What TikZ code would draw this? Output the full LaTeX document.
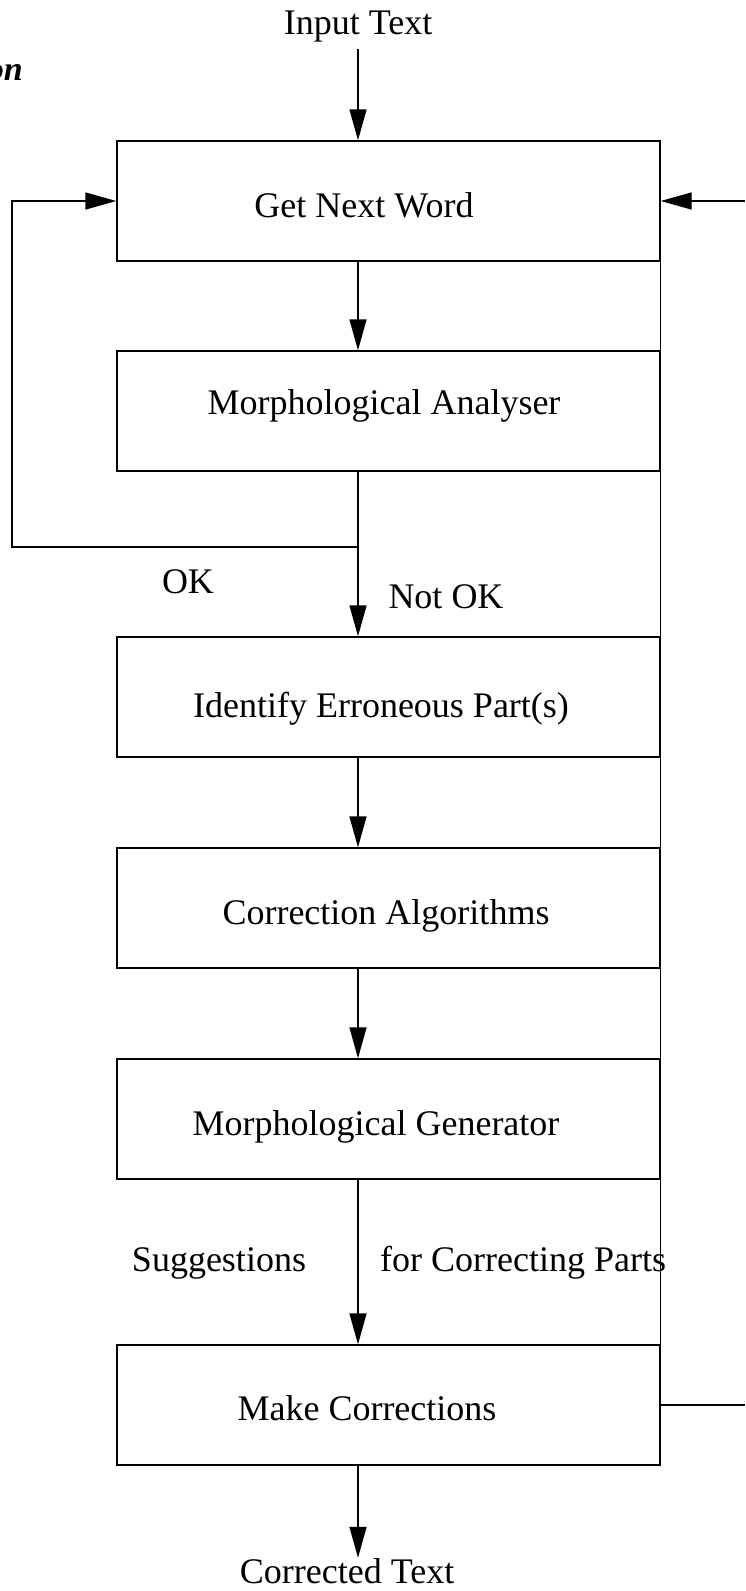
\documentclass[tikz,border=0pt]{standalone}
\usepackage{fontspec}
\setmainfont{Liberation Serif}
\usetikzlibrary{arrows.meta}
\begin{document}
\begin{tikzpicture}[x=1pt,y=-1pt,
  every node/.style={inner sep=0pt,font=\fontsize{36}{40}\selectfont},
  box/.style={draw,line width=1.4pt,rectangle,minimum width=543pt,minimum height=120pt},
  lbl/.style={anchor=base},
  conn/.style={line width=1.4pt},
  arr/.style={conn,-{Triangle[length=31pt,width=17pt]}}]
\useasboundingbox (0,0) rectangle (745,1591);
\clip (0,0) rectangle (745,1591);
% clipped heading fragment
\node[anchor=base east,font=\fontsize{34}{38}\selectfont\bfseries\itshape] (hd) at (23,80) {on};
% boxes
\node[box] (b1) at (388.5,201) {};
\node[box] (b2) at (388.5,411) {};
\node[box] (b3) at (388.5,697) {};
\node[box] (b4) at (388.5,908) {};
\node[box] (b5) at (388.5,1119) {};
\node[box] (b6) at (388.5,1405) {};
% box texts
\node[lbl] (t1) at (364,217) {Get Next Word};
\node[lbl] (t2) at (384,414) {Morphological Analyser};
\node[lbl] (t3) at (381,717) {Identify Erroneous Part(s)};
\node[lbl] (t4) at (386,924) {Correction Algorithms};
\node[lbl] (t5) at (376,1135) {Morphological Generator};
\node[lbl] (t6) at (367,1420) {Make Corrections};
% input / output
\node[lbl] (in) at (358,34) {Input Text};
\node[lbl] (out) at (347,1583) {Corrected Text};
% labels
\node[lbl] (okl) at (188,593) {OK};
\node[lbl] (nok) at (446,608) {Not OK};
\node[lbl] (sug) at (219,1271) {Suggestions};
\node[anchor=base west] (fcp) at (380,1271) {for Correcting Parts};
% coordinates
\coordinate (ax) at (358,0);
\coordinate (split) at (358,547);
\coordinate (lb) at (12,547);
\coordinate (lt) at (12,201);
\coordinate (rin) at (745,201);
\coordinate (rout) at (745,1405);
% connectors
\draw[arr,shorten <=7pt] (in.south) -- (b1.north -| ax);
\draw[arr] (b1.south -| ax) -- (b2.north -| ax);
\draw[conn] (b2.south -| ax) -- (split);
\draw[arr] (split) -- (b3.north -| ax);
\draw[arr] (split) -- (lb) -- (lt) -- (b1.west);
\draw[arr] (b3.south -| ax) -- (b4.north -| ax);
\draw[arr] (b4.south -| ax) -- (b5.north -| ax);
\draw[arr] (b5.south -| ax) -- (b6.north -| ax);
\draw[arr] (b6.south -| ax) -- (out.north -| ax);
\draw[arr] (rin) -- (b1.east);
\draw[conn] (b1.north east) -- (b6.south east);
\draw[conn] (b6.east) -- (rout);
\end{tikzpicture}
\end{document}
